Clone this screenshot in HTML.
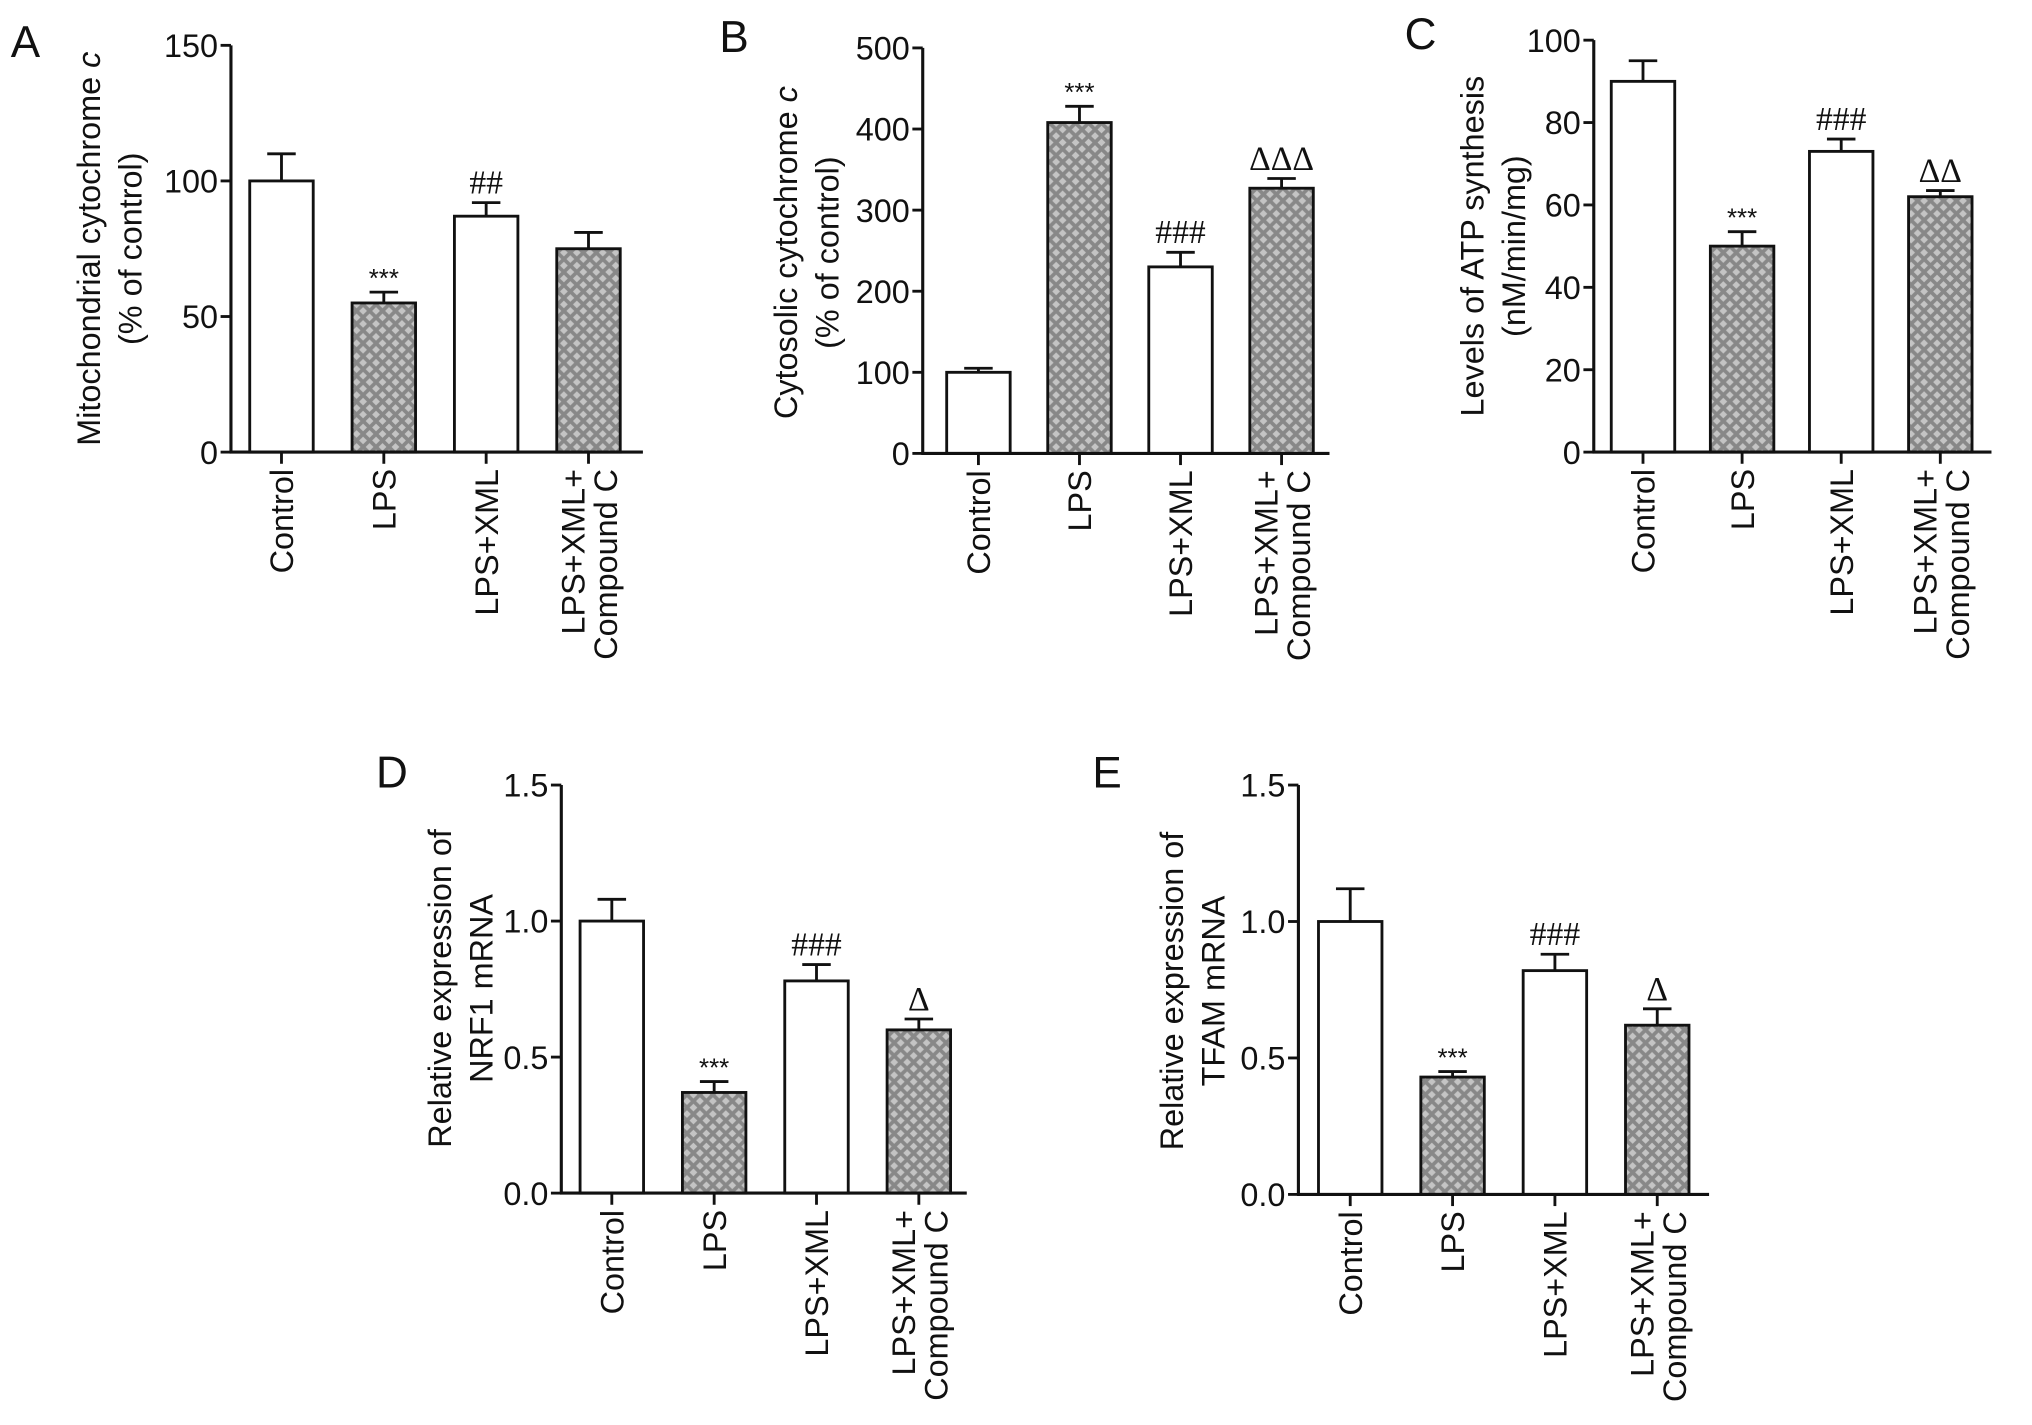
<!DOCTYPE html>
<html><head><meta charset="utf-8"><style>
html,body{margin:0;padding:0;background:#fff;}
svg{display:block;font-family:"Liberation Sans",Arial,sans-serif;}
</style></head><body>
<svg id="fig" width="2032" height="1425" viewBox="0 0 1568 1100" xmlns="http://www.w3.org/2000/svg">
<defs>
<pattern id="dots" patternUnits="userSpaceOnUse" width="10" height="10">
<rect width="10" height="10" fill="#888888"/>
<polygon points="5,2 8,5 5,8 2,5" fill="#c4c4c4"/>
<polygon points="0,-3 3,0 0,3 -3,0" fill="#c4c4c4"/>
<polygon points="10,-3 13,0 10,3 7,0" fill="#c4c4c4"/>
<polygon points="0,7 3,10 0,13 -3,10" fill="#c4c4c4"/>
<polygon points="10,7 13,10 10,13 7,10" fill="#c4c4c4"/>
</pattern>
</defs>
</svg>
<script>
const categories=["Control","LPS","LPS+XML","LPS+XML+|Compound C"];
const valsA=[100,55,87,75], errA=[10,4,5,6], ticksA=[0,50,100,150], annA=["","***","##",""];
const valsB=[100,408,230,327], errB=[5,20,18,12], ticksB=[0,100,200,300,400,500], annB=["","***","###","ΔΔΔ"];
const valsC=[90,50,73,62], errC=[5,3.5,3,1.5], ticksC=[0,20,40,60,80,100], annC=["","***","###","ΔΔ"];
const valsD=[1.0,0.37,0.78,0.60], errD=[0.08,0.04,0.06,0.04], ticksD=[0,0.5,1.0,1.5], annD=["","***","###","Δ"];
const valsE=[1.0,0.43,0.82,0.62], errE=[0.12,0.02,0.06,0.06], ticksE=[0,0.5,1.0,1.5], annE=["","***","###","Δ"];

const svg=document.getElementById('fig');
const NS="http://www.w3.org/2000/svg";
function mk(tag,attrs,parent){const e=document.createElementNS(NS,tag);for(const k in attrs)e.setAttribute(k,attrs[k]);(parent||svg).appendChild(e);return e;}
const FS=25;
function panel(o){
  const g=mk('g',{});
  
  
  const ymax=o.ticks[o.ticks.length-1];
  const y=v=>o.y0-(v/ymax)*(o.y0-o.ytop);
  const step=o.step, bw=49;
  const cx=i=>o.x0+o.first+i*step;
  const L=mk('text',{x:o.lx,y:o.ly,'font-size':34,fill:'#111'},g);L.textContent=o.letter;
  
  
  o.vals.forEach((v,i)=>{
    const fill=(i%2===1)?'url(#dots)':'#fff';
    const top=y(v), et=y(v+o.err[i]);
    const eb=mk('line',{x1:cx(i),x2:cx(i),y1:top,y2:et,stroke:'#111','stroke-width':2.2},g);
    
    
    mk('line',{x1:cx(i)-11,x2:cx(i)+11,y1:et,y2:et,stroke:'#111','stroke-width':2.2},g);
    const r=mk('rect',{x:cx(i)-bw/2,y:top,width:bw,height:o.y0-top,fill:fill,stroke:'#111','stroke-width':2.2},g);
    
    
    if(o.ann[i]){
      const isStar=o.ann[i].indexOf('*')>=0;
      const t=mk('text',{x:cx(i),y:et-(isStar?4:7),'text-anchor':'middle','font-size':isStar?20:26,fill:'#111','font-family':isStar?'Liberation Sans, sans-serif':'Liberation Serif, serif'},g);
      t.textContent=o.ann[i];
      
      
    }
    mk('line',{x1:cx(i),x2:cx(i),y1:o.y0,y2:o.y0+9,stroke:'#111','stroke-width':2.2},g);
    const parts=categories[i].split('|');
    const lt=mk('text',{transform:`translate(${cx(i)},${o.y0+13}) rotate(-90)`,'text-anchor':'end','font-size':FS,fill:'#111'},g);
    
    
    parts.forEach((p,k)=>{const ts=mk('tspan',{x:0,y:(parts.length===1?9:(k===0?-3:22))},lt);ts.textContent=p;});
  });
  const ya=mk('line',{x1:o.x0,x2:o.x0,y1:o.ytop,y2:o.y0+1,stroke:'#111','stroke-width':2.4},g);
  
  
  const xa=mk('line',{x1:o.x0-1,x2:o.xend,y1:o.y0,y2:o.y0,stroke:'#111','stroke-width':2.4},g);
  
  
  o.ticks.forEach(t=>{
    mk('line',{x1:o.x0-8,x2:o.x0,y1:y(t),y2:y(t),stroke:'#111','stroke-width':2.2},g);
    const tl=mk('text',{x:o.x0-10,y:y(t)+9,'text-anchor':'end','font-size':FS,fill:'#111'},g);
    tl.textContent=o.fmt?t.toFixed(1):String(t);
    
    
  });
  const yl=mk('text',{transform:`translate(${o.ylx},${o.yly}) rotate(-90)`,'text-anchor':'middle','font-size':FS,fill:'#111'},g);
  
  
  o.ylabel.forEach((p,k)=>{const ts=mk('tspan',{x:0,y:k*32},yl);ts.innerHTML=p;});
}
panel({letter:'A',lx:8,ly:44,x0:178,ytop:35,y0:349,xend:496,first:39,step:79,vals:valsA,err:errA,ticks:ticksA,ann:annA,ylx:77,yly:192,ylabel:['Mitochondrial cytochrome <tspan font-style="italic">c</tspan>','(% of control)']});
panel({letter:'B',lx:555,ly:40,x0:712,ytop:37,y0:350,xend:1026,first:43,step:78,vals:valsB,err:errB,ticks:ticksB,ann:annB,ylx:615,yly:195,ylabel:['Cytosolic cytochrome <tspan font-style="italic">c</tspan>','(% of control)']});
panel({letter:'C',lx:1084,ly:38,x0:1230,ytop:31,y0:349,xend:1537,first:38,step:76.5,vals:valsC,err:errC,ticks:ticksC,ann:annC,ylx:1145,yly:190,ylabel:['Levels of ATP synthesis','(nM/min/mg)']});
panel({letter:'D',lx:290,ly:608,x0:433,ytop:606,y0:921,xend:746,first:39,step:79,vals:valsD,err:errD,ticks:ticksD,ann:annD,fmt:true,ylx:348,yly:763,ylabel:['Relative expression of','NRF1 mRNA']});
panel({letter:'E',lx:843,ly:608,x0:1002,ytop:606,y0:922,xend:1319,first:40,step:79,vals:valsE,err:errE,ticks:ticksE,ann:annE,fmt:true,ylx:913,yly:765,ylabel:['Relative expression of','TFAM mRNA']});
</script>
</body></html>
